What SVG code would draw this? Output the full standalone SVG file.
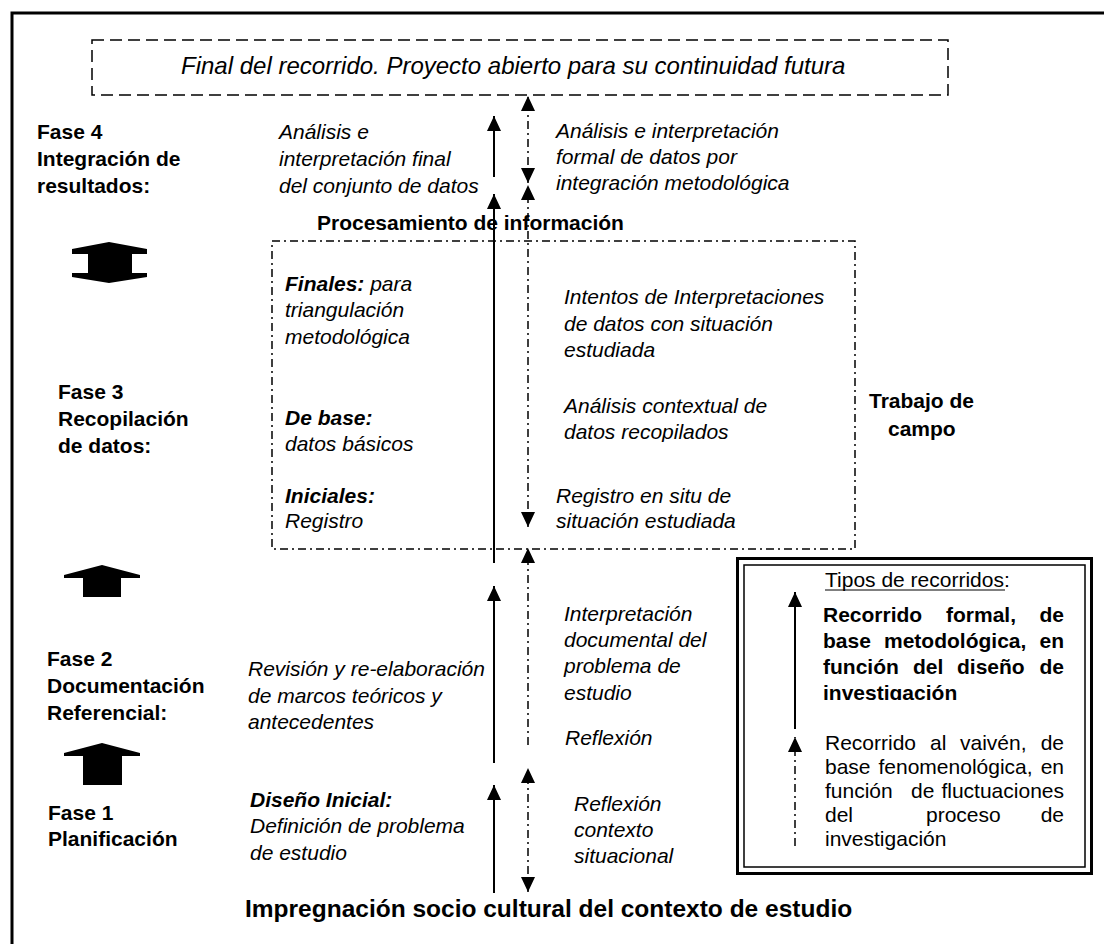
<svg xmlns="http://www.w3.org/2000/svg" width="1104" height="944" viewBox="0 0 1104 944">
<defs>
<style>
text{font-family:"Liberation Sans",Arial,sans-serif;fill:#000}
.it{font-style:italic;font-size:21px}
.bi{font-style:italic;font-weight:bold;font-size:21px}
.b{font-weight:bold;font-size:21px}
.r{font-size:21px}
.solid{stroke:#000;stroke-width:2;fill:none}
.dd{stroke:#000;stroke-width:1.5;fill:none;stroke-dasharray:8 4 2 4}
.blk{fill:#000;stroke:none}
</style>
<marker id="ah" viewBox="0 0 15 14" refX="15" refY="7" markerWidth="15" markerHeight="14" markerUnits="userSpaceOnUse" orient="auto-start-reverse"><path d="M0,0L15,7L0,14z" fill="#000"/></marker>
<clipPath id="clipA"><rect x="540" y="380" width="300" height="62"/></clipPath>
<clipPath id="clipB"><rect x="800" y="600" width="280" height="100"/></clipPath>
</defs>
<rect width="1104" height="944" fill="#fff"/>
<path d="M12,944V13H1104" fill="none" stroke="#000" stroke-width="3"/>

<g id="final">
<rect x="92" y="40" width="856" height="55" fill="none" stroke="#000" stroke-width="1.5" stroke-dasharray="12 6"/>
<text x="181" y="74" style="font-style:italic;font-size:24px">Final del recorrido. Proyecto abierto para su continuidad futura</text>
</g>

<g id="fase4">
<text class="b" x="37" y="139">Fase 4</text>
<text class="b" x="37" y="166">Integración de</text>
<text class="b" x="37" y="193">resultados:</text>
</g>
<g id="analisis-final">
<text class="it" x="279" y="139">Análisis e</text>
<text class="it" x="279" y="166">interpretación final</text>
<text class="it" x="279" y="193">del conjunto de datos</text>
</g>
<g id="analisis-formal">
<text class="it" x="556" y="138">Análisis e interpretación</text>
<text class="it" x="556" y="164">formal de datos por</text>
<text class="it" x="556" y="190">integración metodológica</text>
</g>

<g id="arrow-4-3">
<path class="blk" d="M109,242L147,249V254H132V273H147V277L109,283L72,277V273H88V254H72V249Z"/>
</g>

<g id="procesamiento">
<text class="b" x="317" y="230">Procesamiento de información</text>
<rect x="272" y="241" width="583" height="308" fill="none" stroke="#000" stroke-width="1.5" stroke-dasharray="8 4 2 4"/>
</g>
<g id="finales">
<text x="285" y="291"><tspan class="bi">Finales:</tspan><tspan class="it"> para</tspan></text>
<text class="it" x="285" y="317">triangulación</text>
<text class="it" x="285" y="344">metodológica</text>
</g>
<g id="intentos">
<text class="it" x="564" y="304">Intentos de Interpretaciones</text>
<text class="it" x="564" y="331">de datos con situación</text>
<text class="it" x="564" y="357">estudiada</text>
</g>
<g id="fase3">
<text class="b" x="58" y="399">Fase 3</text>
<text class="b" x="58" y="426">Recopilación</text>
<text class="b" x="58" y="453">de datos:</text>
</g>
<g id="debase">
<text class="bi" x="285" y="425">De base:</text>
<text class="it" x="285" y="451">datos básicos</text>
</g>
<g id="contextual" clip-path="url(#clipA)">
<text class="it" x="564" y="413">Análisis contextual de</text>
<text class="it" x="564" y="439">datos recopilados</text>
</g>
<g id="trabajo">
<text class="b" x="869" y="408">Trabajo de</text>
<text class="b" x="888" y="436">campo</text>
</g>
<g id="iniciales">
<text class="bi" x="285" y="503">Iniciales:</text>
<text class="it" x="285" y="528">Registro</text>
</g>
<g id="registro">
<text class="it" x="556" y="503">Registro en situ de</text>
<text class="it" x="556" y="528">situación estudiada</text>
</g>

<g id="arrow-3-2">
<path class="blk" d="M102,565L140,575V578H121V597H83V578H64V575Z"/>
</g>

<g id="interpretacion">
<text class="it" x="564" y="621">Interpretación</text>
<text class="it" x="564" y="647">documental del</text>
<text class="it" x="564" y="673">problema de</text>
<text class="it" x="564" y="700">estudio</text>
</g>
<g id="fase2">
<text class="b" x="47" y="666">Fase 2</text>
<text class="b" x="47" y="693">Documentación</text>
<text class="b" x="47" y="720">Referencial:</text>
</g>
<g id="revision">
<text class="it" x="248" y="676">Revisión y re-elaboración</text>
<text class="it" x="248" y="703">de marcos teóricos y</text>
<text class="it" x="248" y="729">antecedentes</text>
</g>
<g id="reflexion">
<text class="it" x="565" y="745">Reflexión</text>
</g>

<g id="arrow-2-1">
<path class="blk" d="M102,743L140,753V756H122V785H83V756H64V753Z"/>
</g>

<g id="fase1">
<text class="b" x="48" y="820">Fase 1</text>
<text class="b" x="48" y="846">Planificación</text>
</g>
<g id="diseno">
<text class="bi" x="250" y="807">Diseño Inicial:</text>
<text class="it" x="250" y="833">Definición de problema</text>
<text class="it" x="250" y="860">de estudio</text>
</g>
<g id="reflexion-contexto">
<text class="it" x="574" y="811">Reflexión</text>
<text class="it" x="574" y="837">contexto</text>
<text class="it" x="574" y="863">situacional</text>
</g>
<g id="impregnacion">
<text x="245" y="917" style="font-weight:bold;font-size:24.5px">Impregnación socio cultural del contexto de estudio</text>
</g>

<g id="legend">
<rect x="737.5" y="558.5" width="354" height="315" fill="none" stroke="#000" stroke-width="3"/>
<rect x="744" y="565" width="341" height="302" fill="none" stroke="#000" stroke-width="1.5"/>
<text class="r" x="825" y="587">Tipos de recorridos:</text>
<line x1="825" y1="590" x2="1005" y2="590" stroke="#000" stroke-width="1.2"/>
<path class="solid" d="M795,729V592" marker-end="url(#ah)"/>
<g clip-path="url(#clipB)">
<text class="b" x="823" y="622">Recorrido</text>
<text class="b" x="946" y="622">formal,</text>
<text class="b" x="1064" y="622" text-anchor="end">de</text>
<text class="b" x="823" y="648">base</text>
<text class="b" x="884" y="648">metodológica,</text>
<text class="b" x="1064" y="648" text-anchor="end">en</text>
<text class="b" x="823" y="674">función</text>
<text class="b" x="913" y="674">del</text>
<text class="b" x="957" y="674">diseño</text>
<text class="b" x="1064" y="674" text-anchor="end">de</text>
<text class="b" x="823" y="700">investigación</text>
</g>
<path class="dd" d="M795,846V737" marker-end="url(#ah)"/>
<text class="r" x="825" y="750">Recorrido</text>
<text class="r" x="930" y="750">al</text>
<text class="r" x="960" y="750">vaivén,</text>
<text class="r" x="1064" y="750" text-anchor="end">de</text>
<text class="r" x="825" y="774">base</text>
<text class="r" x="878.5" y="774">fenomenológica,</text>
<text class="r" x="1064" y="774" text-anchor="end">en</text>
<text class="r" x="825" y="798">función</text>
<text class="r" x="911" y="798">de</text>
<text class="r" x="1064" y="798" text-anchor="end">fluctuaciones</text>
<text class="r" x="825" y="822">del</text>
<text class="r" x="926" y="822">proceso</text>
<text class="r" x="1064" y="822" text-anchor="end">de</text>
<text class="r" x="825" y="846">investigación</text>
</g>

<g id="connectors">
<path class="solid" d="M494,177V116" marker-end="url(#ah)"/>
<path class="solid" d="M494,563V194" marker-end="url(#ah)"/>
<path class="solid" d="M494,763V586" marker-end="url(#ah)"/>
<path class="solid" d="M494,893V785" marker-end="url(#ah)"/>
<path class="dd" d="M528,183V96" marker-start="url(#ah)" marker-end="url(#ah)"/>
<path class="dd" d="M528,527V185" marker-start="url(#ah)" marker-end="url(#ah)"/>
<path class="dd" d="M528,745V548" marker-end="url(#ah)"/>
<path class="dd" d="M528,892V768" marker-start="url(#ah)" marker-end="url(#ah)"/>
</g>
</svg>
